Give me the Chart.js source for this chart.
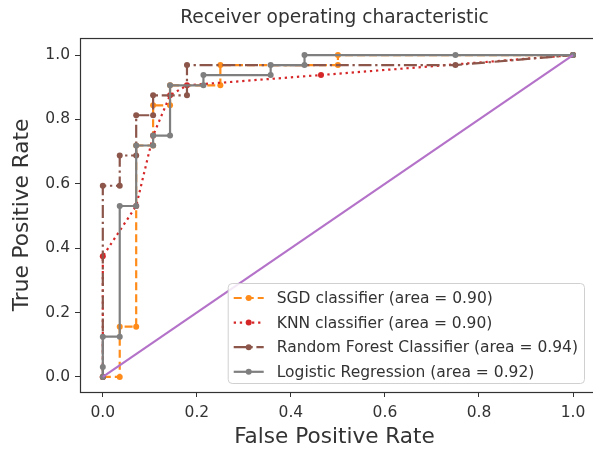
<!DOCTYPE html>
<html>
<head>
<meta charset="utf-8">
<script src="https://cdn.jsdelivr.net/npm/chart.js@4"></script>
<style>
body { margin: 0; background: #fff; overflow: hidden; }
</style>
</head>
<body>
<canvas id="roc" width="593" height="453"></canvas>
<script>
// tick labels
const tickValues = [0, 0.2, 0.4, 0.6, 0.8, 1.0];

// ROC points
const sgdFpr = [0, 0.036, 0.036, 0.071, 0.071, 0.107, 0.107, 0.143, 0.143, 0.25, 0.25, 0.5, 0.5, 1];
const sgdTpr = [0, 0, 0.156, 0.156, 0.719, 0.719, 0.844, 0.844, 0.906, 0.906, 0.969, 0.969, 1, 1];

const knnFpr = [0, 0, 0.071, 0.107, 0.143, 0.179, 0.464, 1];
const knnTpr = [0, 0.375, 0.531, 0.75, 0.875, 0.906, 0.938, 1];

const rfFpr = [0, 0, 0.036, 0.036, 0.071, 0.071, 0.107, 0.107, 0.179, 0.179, 0.75, 1];
const rfTpr = [0, 0.594, 0.594, 0.688, 0.688, 0.813, 0.813, 0.875, 0.875, 0.969, 0.969, 1];

const lrFpr = [0, 0, 0, 0.036, 0.036, 0.071, 0.071, 0.107, 0.107, 0.143, 0.143, 0.214, 0.214, 0.357, 0.357, 0.429, 0.429, 0.75, 1];
const lrTpr = [0, 0.031, 0.125, 0.125, 0.531, 0.531, 0.719, 0.719, 0.75, 0.75, 0.906, 0.906, 0.938, 0.938, 0.969, 0.969, 1, 1, 1];

const diagX = [0, 1];
const diagY = [0, 1];

const names = [
    'SGD classifier (area = 0.90)',
    'KNN classifier (area = 0.90)',
    'Random Forest Classifier (area = 0.94)',
    'Logistic Regression (area = 0.92)',
];

function pts(xs, ys) {
    return xs.map((x, i) => ({x: x, y: ys[i]}));
}

const font = "'DejaVu Sans', 'Liberation Sans', sans-serif";
const ink = '#333';

// box round the axes (matplotlib spines)
const frame = {
    id: 'frame',
    afterDatasetsDraw(chart) {
        const a = chart.chartArea, c = chart.ctx;
        c.save();
        c.strokeStyle = ink;
        c.lineWidth = 1.2;
        c.strokeRect(a.left + 0.5, a.top + 0.5, a.right - a.left + 20, a.bottom - a.top);
        c.restore();
    }
};

// legend in the lower right, drawn like matplotlib's
const rocLegend = {
    id: 'rocLegend',
    afterDraw(chart) {
        const c = chart.ctx, a = chart.chartArea;
        const sets = chart.data.datasets.filter(d => d.label);
        c.save();
        c.font = '15.5px ' + font;
        let w = 0;
        sets.forEach(d => { w = Math.max(w, c.measureText(d.label).width); });
        const boxW = w + 55, rowH = 24.6, boxH = 100;
        const x0 = a.right - 5 - boxW, y0 = a.bottom - 9 - boxH;
        c.fillStyle = 'rgba(255,255,255,0.85)';
        c.strokeStyle = '#d0d0d0';
        c.lineWidth = 1;
        c.beginPath();
        c.roundRect(x0 + 0.5, y0 + 0.5, boxW, boxH, 4);
        c.fill();
        c.stroke();
        sets.forEach((d, i) => {
            const yy = y0 + 15 + i * rowH;
            c.strokeStyle = d.borderColor;
            c.lineWidth = d.borderWidth;
            c.setLineDash(d.borderDash || []);
            c.beginPath();
            c.moveTo(x0 + 6, yy);
            c.lineTo(x0 + 36, yy);
            c.stroke();
            c.setLineDash([]);
            c.fillStyle = d.pointBackgroundColor;
            c.beginPath();
            c.arc(x0 + 21, yy, d.pointRadius, 0, Math.PI * 2);
            c.fill();
            c.fillStyle = ink;
            c.textBaseline = 'middle';
            c.fillText(d.label, x0 + 49, yy + 1);
        });
        c.restore();
    }
};

function curve(label, data, color, dash, order) {
    return {
        label: label,
        data: data,
        borderColor: color,
        backgroundColor: color,
        pointBackgroundColor: color,
        pointBorderColor: color,
        borderWidth: 2.2,
        borderDash: dash,
        pointRadius: 3,
        pointBorderWidth: 0,
        fill: false,
        tension: 0,
        order: order,
    };
}

new Chart(document.getElementById('roc').getContext('2d'), {
    type: 'line',
    data: {
        datasets: [
            curve(names[0], pts(sgdFpr, sgdTpr), '#ff8c1a', [8, 4], 5),
            curve(names[1], pts(knnFpr, knnTpr), '#d62728', [2.3, 3.8], 4),
            curve(names[2], pts(rfFpr, rfTpr), '#8c564b', [13, 3.7, 2.3, 3.7], 3),
            curve(names[3], pts(lrFpr, lrTpr), '#7f7f7f', [], 2),
            {
                label: '',
                data: pts(diagX, diagY),
                borderColor: '#b473c9',
                borderWidth: 2.2,
                pointRadius: 0,
                fill: false,
                order: 1,
            },
        ]
    },
    options: {
        responsive: false,
        animation: false,
        events: [],
        layout: { padding: 0 },
        plugins: {
            legend: { display: false },
            tooltip: { enabled: false },
            title: {
                display: true,
                text: 'Receiver operating characteristic',
                fullSize: false,
                color: ink,
                font: { family: font, size: 18.6, weight: 'normal' },
                padding: { top: 7, bottom: 8.7 },
            },
        },
        scales: {
            x: {
                type: 'linear',
                min: -0.0485,
                max: 1.034,
                afterBuildTicks: s => { s.ticks = tickValues.map(v => ({value: v})); },
                afterFit: s => { s.height = 61; s.paddingLeft = 0; s.paddingRight = 0; },
                ticks: {
                    color: ink,
                    font: { family: font, size: 15.5 },
                    padding: 7,
                    maxRotation: 0,
                    callback: v => v.toFixed(1),
                },
                grid: { drawOnChartArea: false, drawTicks: true, tickLength: 5, color: ink },
                border: { display: false },
                title: {
                    display: true,
                    text: 'False Positive Rate',
                    color: ink,
                    font: { family: font, size: 21.6 },
                    padding: { top: 0, bottom: 3 },
                },
            },
            y: {
                type: 'linear',
                min: -0.047,
                max: 1.053,
                afterBuildTicks: s => { s.ticks = tickValues.map(v => ({value: v})); },
                afterFit: s => { s.width = 80; },
                ticks: {
                    color: ink,
                    font: { family: font, size: 15.5 },
                    padding: 5,
                    callback: v => v.toFixed(1),
                },
                grid: { drawOnChartArea: false, drawTicks: true, tickLength: 5, color: ink },
                border: { display: false },
                title: {
                    display: true,
                    text: 'True Positive Rate',
                    color: ink,
                    font: { family: font, size: 21.6 },
                    padding: { top: 9, bottom: 0 },
                },
            },
        },
    },
    plugins: [frame, rocLegend],
});
</script>
</body>
</html>
